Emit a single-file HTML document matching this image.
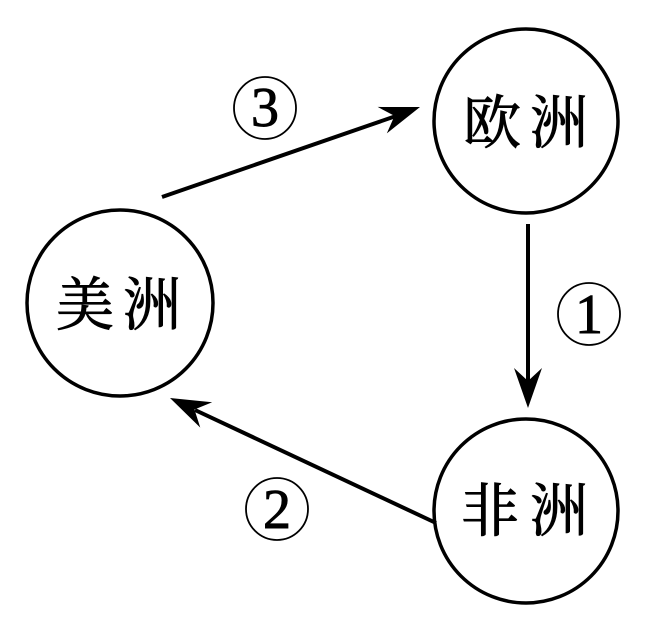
<!DOCTYPE html>
<html>
<head>
<meta charset="utf-8">
<style>
  html, body { margin: 0; padding: 0; background: #fff; }
  body { width: 666px; height: 625px; overflow: hidden; }
  svg { display: block; }
  .cjk { font-family: "Liberation Serif", "Noto Serif CJK SC", "Noto Sans CJK SC", serif; font-size: 58px; fill: #000; stroke: #000; stroke-width: 0.9px; }
  .num { font-family: "Liberation Serif", "DejaVu Serif", serif; font-size: 56px; fill: #000; stroke: #000; stroke-width: 0.9px; }
</style>
</head>
<body>
<svg width="666" height="625" viewBox="0 0 666 625" xmlns="http://www.w3.org/2000/svg">
  <rect width="666" height="625" fill="#fff"/>

  <!-- Node circles -->
  <circle cx="526" cy="121" r="92" fill="none" stroke="#000" stroke-width="3.5"/>
  <circle cx="120" cy="303" r="93" fill="none" stroke="#000" stroke-width="3.5"/>
  <circle cx="526" cy="511" r="92" fill="none" stroke="#000" stroke-width="3.5"/>

  <!-- Node labels -->
  <text class="cjk" x="492" y="143" text-anchor="middle">欧</text>
  <text class="cjk" x="559" y="143" text-anchor="middle">洲</text>

  <text class="cjk" x="85" y="325" text-anchor="middle">美</text>
  <text class="cjk" x="152" y="325" text-anchor="middle">洲</text>

  <text class="cjk" x="490" y="531" text-anchor="middle">非</text>
  <text class="cjk" x="559" y="531" text-anchor="middle">洲</text>

  <!-- Arrow 3: 美洲 -> 欧洲 -->
  <line x1="162" y1="197" x2="396" y2="116" stroke="#000" stroke-width="4"/>
  <g transform="translate(420,107) rotate(-19.2)">
    <polygon points="0,0 -40,-14 -27,0 -40,14" fill="#000"/>
  </g>

  <!-- Arrow 1: 欧洲 -> 非洲 -->
  <line x1="528" y1="224" x2="528" y2="384" stroke="#000" stroke-width="4"/>
  <g transform="translate(528,408) rotate(90)">
    <polygon points="0,0 -40,-14 -27,0 -40,14" fill="#000"/>
  </g>

  <!-- Arrow 2: 非洲 -> 美洲 -->
  <line x1="436" y1="523" x2="195" y2="410" stroke="#000" stroke-width="4"/>
  <g transform="translate(170,398) rotate(-154.9)">
    <polygon points="0,0 -40,-14 -27,0 -40,14" fill="#000"/>
  </g>

  <!-- Circled numbers -->
  <circle cx="265" cy="108" r="31" fill="none" stroke="#000" stroke-width="1.8"/>
  <text class="num" x="265" y="126" text-anchor="middle">3</text>

  <circle cx="589" cy="314" r="31" fill="none" stroke="#000" stroke-width="1.8"/>
  <text class="num" x="589" y="333" text-anchor="middle">1</text>

  <circle cx="277" cy="509" r="31" fill="none" stroke="#000" stroke-width="1.8"/>
  <text class="num" x="277" y="528" text-anchor="middle">2</text>
</svg>
</body>
</html>
